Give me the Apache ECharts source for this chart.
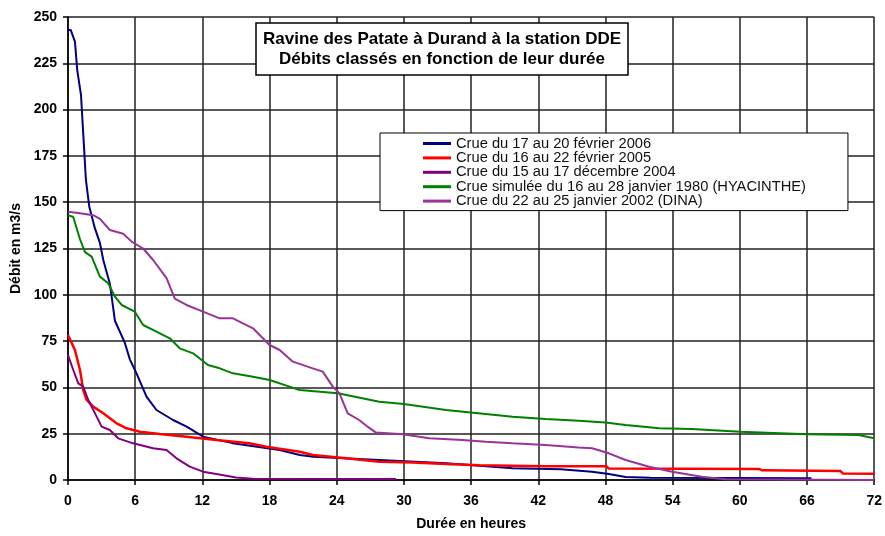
<!DOCTYPE html>
<html>
<head>
<meta charset="utf-8">
<title>Débits classés</title>
<script src="https://cdn.jsdelivr.net/npm/echarts@6/dist/echarts.min.js"></script>
<style>
  html, body { margin: 0; padding: 0; background: #fff; }
  #chart { width: 885px; height: 536px; }
</style>
</head>
<body>
<div id="chart"></div>
<script>
// durée en heures, débit en m3/s
const crue2006 = [
  [0, 243], [0.24, 243], [0.62, 236.7], [0.83, 221], [1.16, 208], [1.36, 187],
  [1.6, 162], [1.9, 147.6], [2.4, 136], [2.85, 128], [3.15, 118.8], [3.74, 106],
  [4.19, 86], [5.08, 74], [5.53, 65], [6.12, 57.6], [7.01, 45], [7.9, 37.8],
  [9.38, 32.4], [10.6, 28.8], [12.06, 23.4], [14.7, 19.9], [18.9, 16.2],
  [20.7, 13.5], [21.9, 12.6], [27.8, 10.8], [33.8, 9], [39.7, 6.3], [44, 5.8],
  [46.8, 4.5], [48.3, 3.2], [49.8, 1.6], [52, 1.2], [66.4, 1]
];
const crue2005 = [
  [0, 78.3], [0.62, 70.2], [1.07, 59.4], [1.36, 48.6], [1.67, 43.2], [2.25, 39.6],
  [3.15, 36], [4.34, 30.6], [5.23, 27.9], [6.42, 26.1], [8.2, 24.8], [10.58, 23.4],
  [13.25, 21.6], [16.2, 19.8], [17.7, 18], [20.7, 15.3], [21.86, 13.5],
  [24.84, 11.7], [27.8, 9.9], [30.8, 9.4], [33.75, 8.6], [36.7, 7.9],
  [42.66, 7.4], [48.1, 7.4], [48.3, 6.2], [61.7, 6.0], [62, 5.2], [69, 4.8],
  [69.2, 3.5], [72, 3.4]
];
const crue2004 = [
  [0, 67.5], [0.47, 59.4], [0.92, 52.2], [1.36, 50.4], [1.81, 43.2], [2.56, 34.2],
  [3.0, 28.8], [3.74, 27], [4.48, 22.5], [5.82, 19.8], [7.6, 17.1], [8.8, 16.2],
  [9.69, 11.7], [10.87, 7.2], [12.06, 4.5], [13.25, 3.2], [15.0, 1.4],
  [16.5, 0.7], [29.3, 0.5]
];
const crue1980 = [
  [0, 143], [0.47, 142], [1.07, 130], [1.52, 123], [2.11, 120.6], [2.85, 109.8],
  [3.59, 106.2], [4.19, 99], [4.79, 94.5], [5.97, 90.9], [6.71, 83.7], [7.9, 80.1],
  [9.09, 76.5], [9.98, 71.1], [11.17, 68.4], [12.5, 62.1], [13.55, 60.3],
  [14.73, 57.6], [16.52, 55.8], [18.0, 54], [19.79, 50.4], [20.68, 48.6],
  [24.1, 46.8], [27.8, 42.3], [30.0, 41], [33.75, 37.8], [35.98, 36.4],
  [39.7, 34.2], [42.66, 33], [45.6, 32], [48, 31], [49.8, 29.7], [52.8, 27.9],
  [55.7, 27.5], [60.04, 26.1], [66, 24.7], [70.6, 24.3], [72, 22.5]
];
const crueDina = [
  [0, 144.9], [1.07, 144], [2.25, 143], [2.85, 141], [3.74, 135], [4.93, 133],
  [5.68, 128.7], [6.71, 125], [7.6, 118.8], [8.8, 109], [9.54, 98], [10.58, 94.5],
  [12.06, 90.9], [13.55, 87.3], [14.73, 87.3], [16.52, 81.9], [18.0, 72.9],
  [18.9, 70.2], [20.08, 63.9], [21.86, 60.3], [22.75, 58.5], [23.65, 50.4],
  [24.24, 46.8], [24.98, 36], [26.0, 32.4], [26.76, 28.8], [27.5, 25.6],
  [29.9, 24.7], [32.26, 22.5], [35.23, 21.6], [37.32, 20.7], [39.69, 19.8],
  [42.66, 18.9], [45.6, 17.6], [46.8, 17.1], [48.3, 14.4], [49.8, 10.8],
  [51.9, 7.2], [53.95, 4.5], [56.6, 1.8], [58.7, 0.4], [72, 0]
];

const seriesNames = [
  "Crue du 17 au 20 février 2006",
  "Crue du 16 au 22 février 2005",
  "Crue du 15 au 17 décembre 2004",
  "Crue simulée du 16 au 28 janvier 1980 (HYACINTHE)",
  "Crue du 22 au 25 janvier 2002 (DINA)"
];
const seriesData = [crue2006, crue2005, crue2004, crue1980, crueDina];
const seriesColors = ["#000080", "#ff0000", "#800080", "#008000", "#993399"];
const seriesWidths = [2, 2.5, 2, 2, 2];

const chartTitle = "Ravine des Patate à Durand à la station DDE\nDébits classés en fonction de leur durée";
const xName = "Durée en heures";
const yName = "Débit en m3/s";

const font = "'Liberation Sans', Arial, sans-serif";

const chart = echarts.init(document.getElementById("chart"));

const option = {
  animation: false,
  backgroundColor: "#fff",
  title: {
    text: chartTitle,
    left: 435,
    top: 23,
    backgroundColor: "#fff",
    borderColor: "#000",
    borderWidth: 1.5,
    padding: [6, 7],
    textAlign: "center",
    textStyle: {
      fontFamily: font,
      fontSize: 17,
      fontWeight: "bold",
      lineHeight: 20,
      color: "#000",
    },
  },
  legend: {
    orient: "vertical",
    left: 380,
    top: 133,
    backgroundColor: "#fff",
    borderColor: "#000",
    borderWidth: 1,
    borderRadius: 0,
    padding: [3, 42, 2, 43],
    icon: "rect",
    itemWidth: 28,
    itemHeight: 3,
    itemGap: -0.6,
    textStyle: {
      fontFamily: font,
      fontSize: 14.7,
      lineHeight: 14,
      color: "#111",
    },
    data: seriesNames,
  },
  grid: {
    left: 68,
    right: 8.5,
    top: 17,
    bottom: 56,
  },
  xAxis: {
    type: "value",
    min: 0,
    max: 72,
    interval: 6,
    name: xName,
    nameLocation: "middle",
    nameGap: 37,
    nameTextStyle: { fontFamily: font, fontSize: 14, fontWeight: "bold", color: "#000" },
    axisLine: { show: true, lineStyle: { color: "#000", width: 1.5 } },
    axisTick: { show: true, length: 5, lineStyle: { color: "#000", width: 1.5 } },
    axisLabel: { margin: 14, fontFamily: font, fontSize: 14, fontWeight: "bold", color: "#000" },
    splitLine: { show: true, lineStyle: { color: "#222", width: 1.5 } },
  },
  yAxis: {
    type: "value",
    min: 0,
    max: 250,
    interval: 25,
    name: yName,
    nameLocation: "middle",
    nameRotate: 90,
    nameGap: 40,
    nameTextStyle: { fontFamily: font, fontSize: 14, fontWeight: "bold", color: "#000" },
    axisLine: { show: true, lineStyle: { color: "#000", width: 1.5 } },
    axisTick: { show: true, length: 5, lineStyle: { color: "#000", width: 1.5 } },
    axisLabel: { margin: 11, fontFamily: font, fontSize: 14, fontWeight: "bold", color: "#000" },
    splitLine: { show: true, lineStyle: { color: "#222", width: 1.5 } },
  },
  series: seriesNames.map((name, i) => ({
    name: name,
    type: "line",
    data: seriesData[i],
    symbol: "none",
    color: seriesColors[i],
    lineStyle: { color: seriesColors[i], width: seriesWidths[i] },
  })),
};

chart.setOption(option);
</script>
</body>
</html>
